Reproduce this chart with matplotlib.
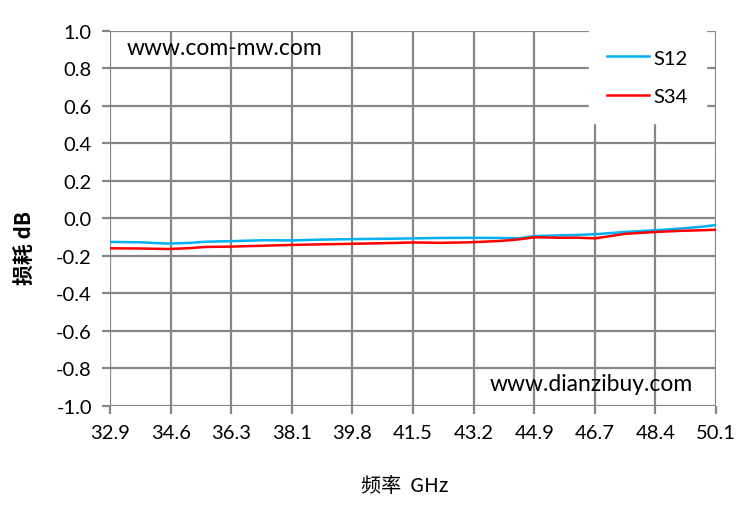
import matplotlib
matplotlib.use("Agg")
import matplotlib.pyplot as plt

freq = [32.90, 33.75, 34.55, 35.17, 35.60, 36.33, 37.30, 38.06, 38.86, 39.80,
        40.85, 41.53, 42.27, 43.12, 43.97, 44.48, 44.96, 45.67, 46.10, 46.67,
        47.52, 48.37, 49.08, 49.65, 50.10]
s12 = [-0.125, -0.127, -0.134, -0.130, -0.124, -0.121, -0.116, -0.117, -0.113, -0.110,
       -0.108, -0.106, -0.104, -0.103, -0.104, -0.106, -0.094, -0.090, -0.088, -0.084,
       -0.072, -0.063, -0.054, -0.045, -0.035]
s34 = [-0.159, -0.160, -0.163, -0.158, -0.152, -0.150, -0.145, -0.141, -0.138, -0.135,
       -0.131, -0.128, -0.130, -0.127, -0.120, -0.112, -0.100, -0.103, -0.102, -0.106,
       -0.082, -0.072, -0.066, -0.063, -0.060]
xtick_labels = ["32.9", "34.6", "36.3", "38.1", "39.8", "41.5", "43.2", "44.9", "46.7", "48.4", "50.1"]
xtick_pos = [32.9, 34.62, 36.34, 38.06, 39.78, 41.5, 43.22, 44.94, 46.66, 48.38, 50.1]
ytick_vals = [1.0, 0.8, 0.6, 0.4, 0.2, 0.0, -0.2, -0.4, -0.6, -0.8, -1.0]

plt.rcParams['font.family'] = ['Lato', 'Noto Sans CJK SC', 'DejaVu Sans']

fig = plt.figure(figsize=(7.5, 5.1), dpi=100)
ax = fig.add_axes([0.1467, 0.2020, 0.8080, 0.7353])

grid_c = '#868686'
ax.plot(freq, s12, color='#00B0F0', lw=1.8, label='S12', zorder=3)
ax.plot(freq, s34, color='#FF0000', lw=1.8, label='S34', zorder=3)

ax.set_xlim(32.9, 50.1)
ax.set_ylim(-1.0, 1.0)
ax.set_xticks(xtick_pos)
ax.set_xticklabels(xtick_labels)
ax.set_yticks(ytick_vals)
ax.set_yticklabels([f"{v:.1f}" for v in ytick_vals])
ax.grid(True, color=grid_c, lw=1.6, zorder=0)
ax.set_axisbelow(True)
for s in ax.spines.values():
    s.set_visible(False)
ax.tick_params(axis='both', colors=grid_c, length=6, width=1.6, labelsize=14.5,
               labelcolor='black', pad=7)

ax.set_ylabel('损耗 dB', fontsize=15, fontweight='bold',
              family=['Noto Sans CJK SC', 'DejaVu Sans'])
ax.yaxis.set_label_coords(-0.122, 0.424)
ax.set_xlabel('频率  GHz', fontsize=14.5, family=['Noto Sans CJK SC', 'DejaVu Sans'])
ax.xaxis.set_label_coords(0.487, -0.184)

ax.text(0.027, 0.957, 'www.com-mw.com', transform=ax.transAxes, fontsize=16.5,
        ha='left', va='center', zorder=4)
ax.text(0.627, 0.059, 'www.dianzibuy.com', transform=ax.transAxes, fontsize=16.5,
        ha='left', va='center', zorder=4)

leg = ax.legend(loc='center', bbox_to_anchor=(0.887, 0.877), frameon=True,
                fontsize=14.5, handlelength=2.1, labelspacing=1.05, borderpad=0.9,
                handletextpad=0.2, fancybox=False)
leg.get_frame().set_edgecolor('white')
leg.get_frame().set_facecolor('white')
leg.get_frame().set_alpha(1.0)

fig.savefig('out.png', dpi=100, facecolor='white')
